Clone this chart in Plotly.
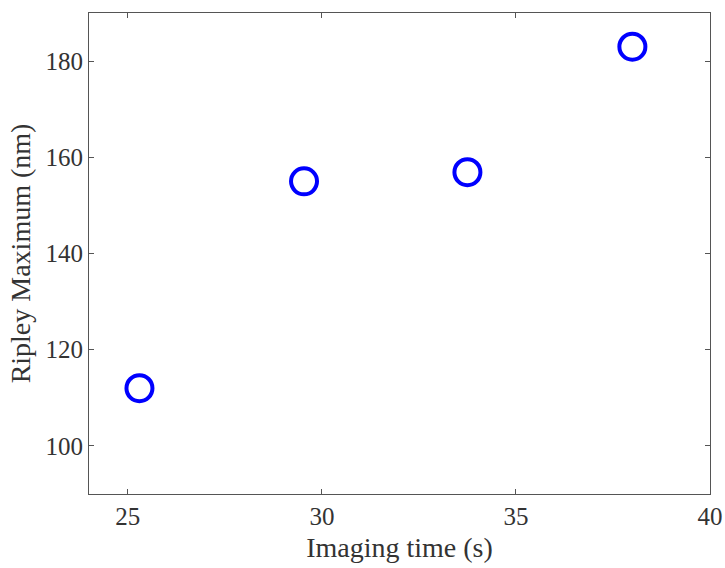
import plotly.graph_objects as go

imaging_time = [25.3, 29.54, 33.75, 38.0]
ripley_max = [112.0, 155.0, 156.9, 183.0]
x_ticks = [25, 30, 35, 40]
y_ticks = [100, 120, 140, 160, 180]

font_family = "Liberation Serif, DejaVu Serif, serif"

fig = go.Figure()
fig.add_trace(go.Scatter(
    x=imaging_time, y=ripley_max, mode="markers",
    marker=dict(symbol="circle-open", size=26, color="#0000ff",
                line=dict(width=4, color="#0000ff")),
    showlegend=False,
))

axis_common = dict(
    showgrid=False, zeroline=False, showline=True, linecolor="#555555", linewidth=1,
    mirror="ticks", ticks="inside", ticklen=5, tickcolor="#555555", automargin=False,
    tickfont=dict(family=font_family, size=25, color="#333333"),
)
fig.update_xaxes(range=[24, 40], tickvals=x_ticks,
                 title=dict(text="Imaging time (s)", font=dict(family=font_family, size=28, color="#333333"), standoff=8),
                 **axis_common)
fig.update_yaxes(range=[90, 190], tickvals=y_ticks,
                 title=dict(text="Ripley Maximum (nm)", font=dict(family=font_family, size=28, color="#333333"), standoff=6),
                 **axis_common)
fig.update_layout(
    width=725, height=568,
    margin=dict(l=89, r=15, t=13, b=74),
    plot_bgcolor="white", paper_bgcolor="white",
)
fig.write_html("out.html")
